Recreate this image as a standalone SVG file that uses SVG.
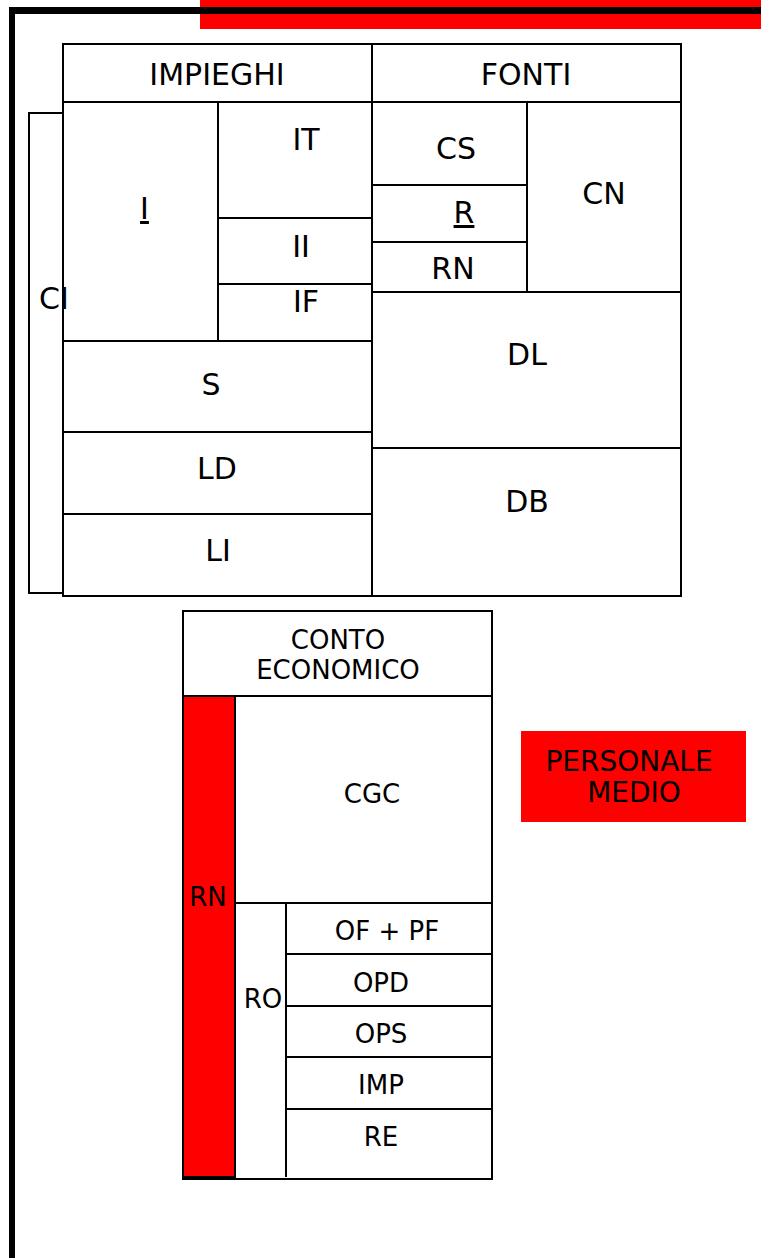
<svg xmlns="http://www.w3.org/2000/svg" width="761" height="1258" viewBox="0 0 761 1258">
<style>
.c{fill:#fff;stroke:#000;stroke-width:2}
.r{fill:#ff0000;stroke:#000;stroke-width:2}
.t{font-family:"DejaVu Sans",Verdana,sans-serif;font-size:30px;fill:#000;text-anchor:middle}
.s{font-family:"DejaVu Sans",Verdana,sans-serif;font-size:26px;fill:#000;text-anchor:middle}
.u{text-decoration:underline}
</style>
<rect width="761" height="1258" fill="#fff"/>
<g id="frame">
<rect x="200" y="0" width="561" height="29" fill="#ff0000"/>
<line x1="9" y1="10.5" x2="761" y2="10.5" stroke="#000" stroke-width="7"/>
<line x1="12" y1="7" x2="12" y2="1258" stroke="#000" stroke-width="6"/>
</g>
<g id="connectors"></g>
<g id="CI"><rect class="c" x="29" y="113" width="34" height="480"/></g>
<g id="IMPIEGHI"><rect class="c" x="63" y="44" width="309" height="58"/><text class="t" x="217" y="85">IMPIEGHI</text></g>
<g id="FONTI"><rect class="c" x="372" y="44" width="309" height="58"/><text class="t" x="526" y="85">FONTI</text></g>
<g id="I"><rect class="c" x="63" y="102" width="155" height="239"/><text class="t u" x="144.5" y="219">I</text></g>
<g id="IT"><rect class="c" x="218" y="102" width="154" height="116"/><text class="t" x="306" y="150">IT</text></g>
<g id="II"><rect class="c" x="218" y="218" width="154" height="66"/><text class="t" x="301" y="257">II</text></g>
<g id="IF"><rect class="c" x="218" y="284" width="154" height="57"/><text class="t" x="306" y="312">IF</text></g>
<g id="S"><rect class="c" x="63" y="341" width="309" height="91"/><text class="t" x="211" y="395">S</text></g>
<g id="LD"><rect class="c" x="63" y="432" width="309" height="82"/><text class="t" x="217" y="479">LD</text></g>
<g id="LI"><rect class="c" x="63" y="514" width="309" height="82"/><text class="t" x="218" y="561">LI</text></g>
<g id="CS"><rect class="c" x="372" y="102" width="155" height="83"/><text class="t" x="456" y="159">CS</text></g>
<g id="R"><rect class="c" x="372" y="185" width="155" height="57"/><text class="t u" x="464" y="223">R</text></g>
<g id="RN1"><rect class="c" x="372" y="242" width="155" height="50"/><text class="t" x="453" y="279">RN</text></g>
<g id="CN"><rect class="c" x="527" y="102" width="154" height="190"/><text class="t" x="604" y="204">CN</text></g>
<g id="DL"><rect class="c" x="372" y="292" width="309" height="156"/><text class="t" x="527" y="365">DL</text></g>
<g id="DB"><rect class="c" x="372" y="448" width="309" height="148"/><text class="t" x="527" y="512">DB</text></g>
<g id="CIlabel"><text class="t" x="54" y="309">CI</text></g>
<g id="CE"><rect class="c" x="183" y="611" width="309" height="568"/>
<rect class="c" x="183" y="611" width="309" height="85"/>
<text class="s" x="338" y="649">CONTO</text><text class="s" x="338" y="679">ECONOMICO</text></g>
<g id="RN2"><rect class="r" x="183" y="696" width="52" height="481"/><text class="s" x="208" y="906">RN</text></g>
<g id="CGC"><rect class="c" x="235" y="696" width="257" height="207"/><text class="s" x="372" y="803">CGC</text></g>
<g id="RO"><line x1="235" y1="903" x2="286" y2="903" stroke="#000" stroke-width="2"/><line x1="286" y1="903" x2="286" y2="1177" stroke="#000" stroke-width="2"/><text class="s" x="263" y="1008">RO</text></g>
<g id="OFPF"><rect class="c" x="286" y="903" width="206" height="51"/><text class="s" x="387" y="940">OF + PF</text></g>
<g id="OPD"><rect class="c" x="286" y="954" width="206" height="52"/><text class="s" x="381" y="992">OPD</text></g>
<g id="OPS"><rect class="c" x="286" y="1006" width="206" height="51"/><text class="s" x="381" y="1043">OPS</text></g>
<g id="IMP"><rect class="c" x="286" y="1057" width="206" height="52"/><text class="s" x="381" y="1094">IMP</text></g>
<g id="RE"><line x1="286" y1="1109" x2="492" y2="1109" stroke="#000" stroke-width="2"/><text class="s" x="381" y="1146">RE</text></g>
<g id="PERSONALE"><rect x="521" y="731" width="225" height="91" fill="#ff0000"/><text class="s" x="629" y="771" style="font-size:28px">PERSONALE</text><text class="s" x="634" y="802" style="font-size:28px">MEDIO</text></g>
</svg>
